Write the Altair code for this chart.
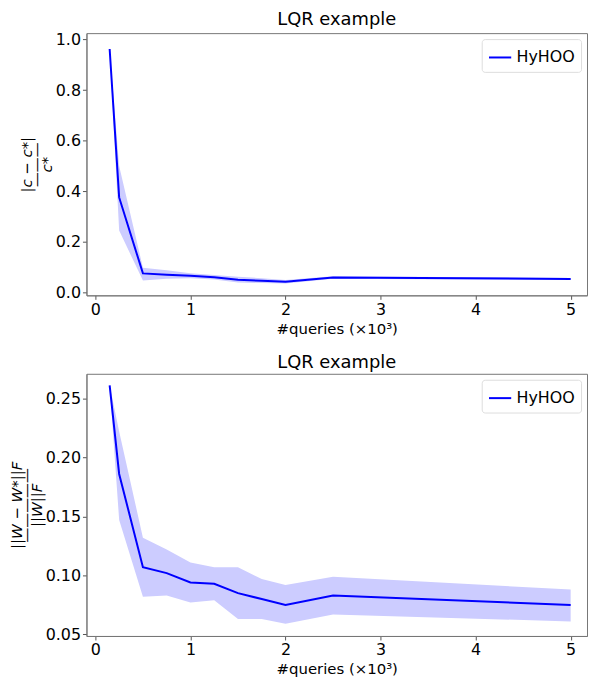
import altair as alt
import pandas as pd

# ---- data ----
queries = [0.15, 0.25, 0.5, 0.75, 1.0, 1.25, 1.5, 1.75, 2.0, 2.5, 5.0]

c_mean = [0.962, 0.376, 0.076, 0.071, 0.067, 0.061, 0.051, 0.047, 0.043, 0.060, 0.054]
c_upper = [0.962, 0.500, 0.098, 0.088, 0.077, 0.070, 0.063, 0.057, 0.050, 0.065, 0.058]
c_lower = [0.962, 0.245, 0.048, 0.055, 0.057, 0.052, 0.040, 0.038, 0.036, 0.055, 0.050]

w_mean = [0.261, 0.186, 0.107, 0.102, 0.094, 0.093, 0.085, 0.080, 0.075, 0.083, 0.075]
w_upper = [0.261, 0.222, 0.132, 0.122, 0.111, 0.107, 0.107, 0.097, 0.092, 0.099, 0.088]
w_lower = [0.261, 0.147, 0.082, 0.083, 0.077, 0.079, 0.063, 0.063, 0.059, 0.067, 0.061]

series_name = "HyHOO"
x_ticks = [0, 1, 2, 3, 4, 5]
c_ticks = [0.0, 0.2, 0.4, 0.6, 0.8, 1.0]
w_ticks = [0.05, 0.10, 0.15, 0.20, 0.25]

FONT = "DejaVu Sans"
BLUE = "#0000ff"
BAND = "#ccccff"

W, H = 504, 264
X_DOM = [-0.094, 5.172]


def panel(mean, lo, hi, ydom, yticks, yfmt, ytitle):
    df = pd.DataFrame({"q": queries, "m": mean, "lo": lo, "hi": hi,
                       "s": [series_name] * len(queries)})
    x = alt.X("q:Q", scale=alt.Scale(domain=X_DOM, nice=False, zero=False),
              axis=alt.Axis(values=x_ticks, format="d", title="#queries (×10³)",
                            grid=False))
    y = alt.Y("m:Q", scale=alt.Scale(domain=ydom, nice=False, zero=False),
              axis=alt.Axis(values=yticks, format=yfmt, title=ytitle, grid=False))
    band = alt.Chart(df).mark_area(color=BAND, opacity=1, clip=True).encode(
        x=x,
        y=alt.Y("lo:Q", scale=alt.Scale(domain=ydom, nice=False, zero=False)),
        y2="hi:Q",
    )
    line = alt.Chart(df).mark_line(strokeWidth=2, clip=True).encode(
        x=x,
        y=y,
        color=alt.Color("s:N", scale=alt.Scale(domain=[series_name], range=[BLUE]),
                        legend=alt.Legend(orient="top-right", title=None,
                                          symbolType="stroke", symbolStrokeWidth=2,
                                          symbolSize=500, labelFontSize=16,
                                          labelFont=FONT, labelColor="black",
                                          strokeColor="#dddddd", fillColor="white",
                                          cornerRadius=3, padding=6, offset=6)),
    )
    return (band + line).properties(
        width=W, height=H,
        title=alt.TitleParams("LQR example", fontSize=18, font=FONT,
                              fontWeight="normal", color="black", offset=2),
    )


top = panel(c_mean, c_lower, c_upper, [-0.0106, 1.0247], c_ticks, ".1f",
            ["|c − c*|", "———", "c*"])
bot = panel(w_mean, w_lower, w_upper, [0.0487, 0.2709], w_ticks, ".2f",
            ["||W − W*||F", "—————", "||W||F"])

chart = alt.vconcat(top, bot, spacing=16).resolve_legend(color="independent").configure_axis(
    labelFont=FONT, labelFontSize=16, labelColor="black",
    titleFont=FONT, titleFontSize=15, titleColor="black", titleFontWeight="normal",
    domainColor="#777777", tickColor="#555555", tickSize=4, labelPadding=2,
    titlePadding=4,
).configure_axisY(titleFontStyle="italic", titleLineHeight=10, titleFontSize=15,
                  titlePadding=1
).configure_view(stroke="#777777", strokeWidth=1
).properties(padding={"left": 0, "top": 0, "right": 0, "bottom": 0})

chart.save("out.html", embed_options={"renderer": "svg", "actions": False})
